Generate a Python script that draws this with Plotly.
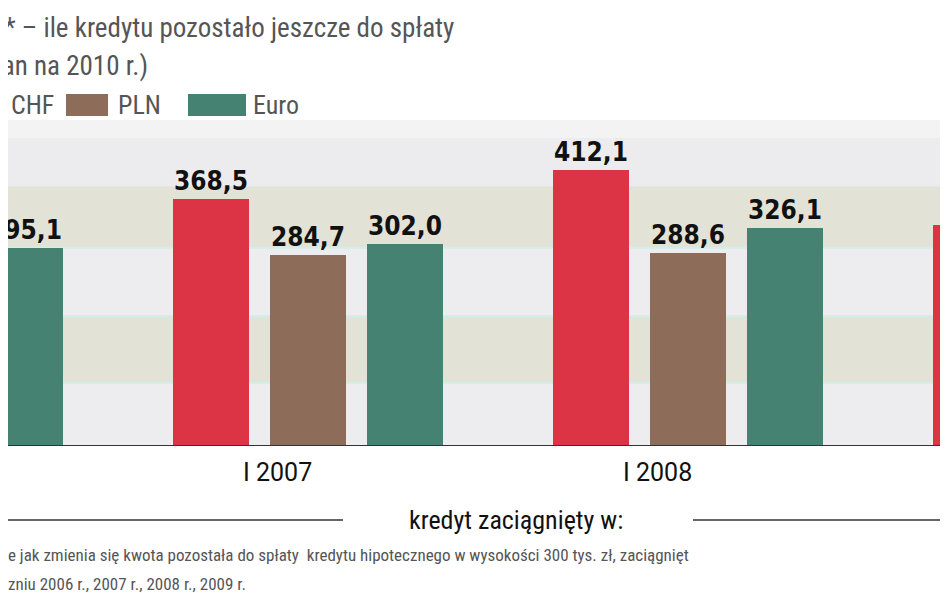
import plotly.graph_objects as go

# data
groups = [0, 1, 2, 3]
group_labels = ["I 2006", "I 2007", "I 2008", "I 2009"]
chf = [330.0, 368.5, 412.1, 330.0]
pln = [280.0, 284.7, 288.6, 290.0]
euro = [295.1, 302.0, 326.1, 310.0]

W, H = 948, 593
top, base = 130, 438
ph = base - top


def py(p):
    # pixel y -> paper y
    return (base - p) / ph


def pxx(p):
    return p / W


def fmt(v):
    return f"{v:.1f}".replace(".", ",")


fig = go.Figure()
off = 0.255
series = [("CHF", chf, -off, "#dd3445"), ("PLN", pln, 0, "#8e6c5a"), ("Euro", euro, off, "#468272")]
for name, vals, o, col in series:
    fig.add_trace(go.Bar(
        x=[g + o for g in groups], y=vals, width=0.2, name=name,
        marker=dict(color=col, line_width=0),
        text=["<b>" + fmt(v) + "</b>" for v in vals], textposition="outside",
        textfont=dict(family="DejaVu Sans Condensed", size=26, color="#111"),
        cliponaxis=False, showlegend=False,
    ))

# background bands
bands = [(0, 94, "#ededf0"), (94, 194, "#e3e2d6"), (194, 296, "#ededf0"), (296, 388, "#e3e2d6"), (388, 460, "#ececef")]
for y0, y1, c in bands:
    fig.add_shape(type="rect", xref="paper", x0=0, x1=1, y0=y0, y1=y1, fillcolor=c, line_width=0, layer="below")
for yl in [94, 194, 296]:
    fig.add_shape(type="line", xref="paper", x0=0, x1=1, y0=yl, y1=yl, line=dict(color="#d2eeea", width=2), layer="below")
fig.add_shape(type="line", xref="paper", x0=0, x1=1, y0=0, y1=0, line=dict(color="#333", width=2))

grey = "#555"
ann = [
    dict(x=pxx(-6), y=py(20), text="* – ile kredytu pozostało jeszcze do spłaty", xanchor="left", size=27),
    dict(x=pxx(142), y=py(58), text="(stan na 2010 r.)", xanchor="right", size=27),
    dict(x=pxx(48), y=py(97), text="CHF", xanchor="right", size=26),
    dict(x=pxx(108), y=py(97), text="PLN", xanchor="left", size=26),
    dict(x=pxx(243), y=py(97), text="Euro", xanchor="left", size=26),
    dict(x=pxx(508), y=py(512), text="kredyt zaciągnięty w:", xanchor="center", size=26, color="#111"),
    dict(x=pxx(-2), y=py(547), text="e jak zmienia się kwota pozostała do spłaty  kredytu hipotecznego w wysokości 300 tys. zł, zaciągnięt",
         xanchor="left", size=17),
    dict(x=pxx(-2), y=py(576), text="zniu 2006 r., 2007 r., 2008 r., 2009 r.", xanchor="left", size=17),
]
for a in ann:
    fig.add_annotation(x=a["x"], y=a["y"], xref="paper", yref="paper", text=a["text"], showarrow=False,
                       xanchor=a["xanchor"], yanchor="middle",
                       font=dict(family="Roboto Condensed, Liberation Sans Narrow, Roboto", size=a["size"], color=a.get("color", grey)))
for g, lab in zip(groups, group_labels):
    fig.add_annotation(x=g - 0.08, y=py(465), yref="paper", text=lab, showarrow=False, yanchor="middle",
                       font=dict(family="Roboto", size=25, color="#111"))

# legend swatches
for x0, x1, c in [(58, 100, "#8e6c5a"), (180, 238, "#468272")]:
    fig.add_shape(type="rect", xref="paper", yref="paper", x0=pxx(x0), x1=pxx(x1), y0=py(108), y1=py(86),
                  fillcolor=c, line_width=0)
for x0, x1 in [(0, 335), (685, 948)]:
    fig.add_shape(type="line", xref="paper", yref="paper", x0=pxx(x0), x1=pxx(x1), y0=py(512), y1=py(512),
                  line=dict(color="#333", width=1.5))
fig.add_shape(type="rect", xref="paper", yref="paper", x0=0, x1=1, y0=1, y1=py(112), fillcolor="#f3f3f4", line_width=0, layer="below")

fig.update_layout(
    width=W, height=H, margin=dict(l=0, r=0, t=top, b=H - base),
    paper_bgcolor="white", plot_bgcolor="#ededf0", bargap=0,
    xaxis=dict(range=[1 - 300 / 380, 1 + 648 / 380], showticklabels=False, showgrid=False, zeroline=False),
    yaxis=dict(range=[0, 460], visible=False),
)
fig.write_html("out.html")
